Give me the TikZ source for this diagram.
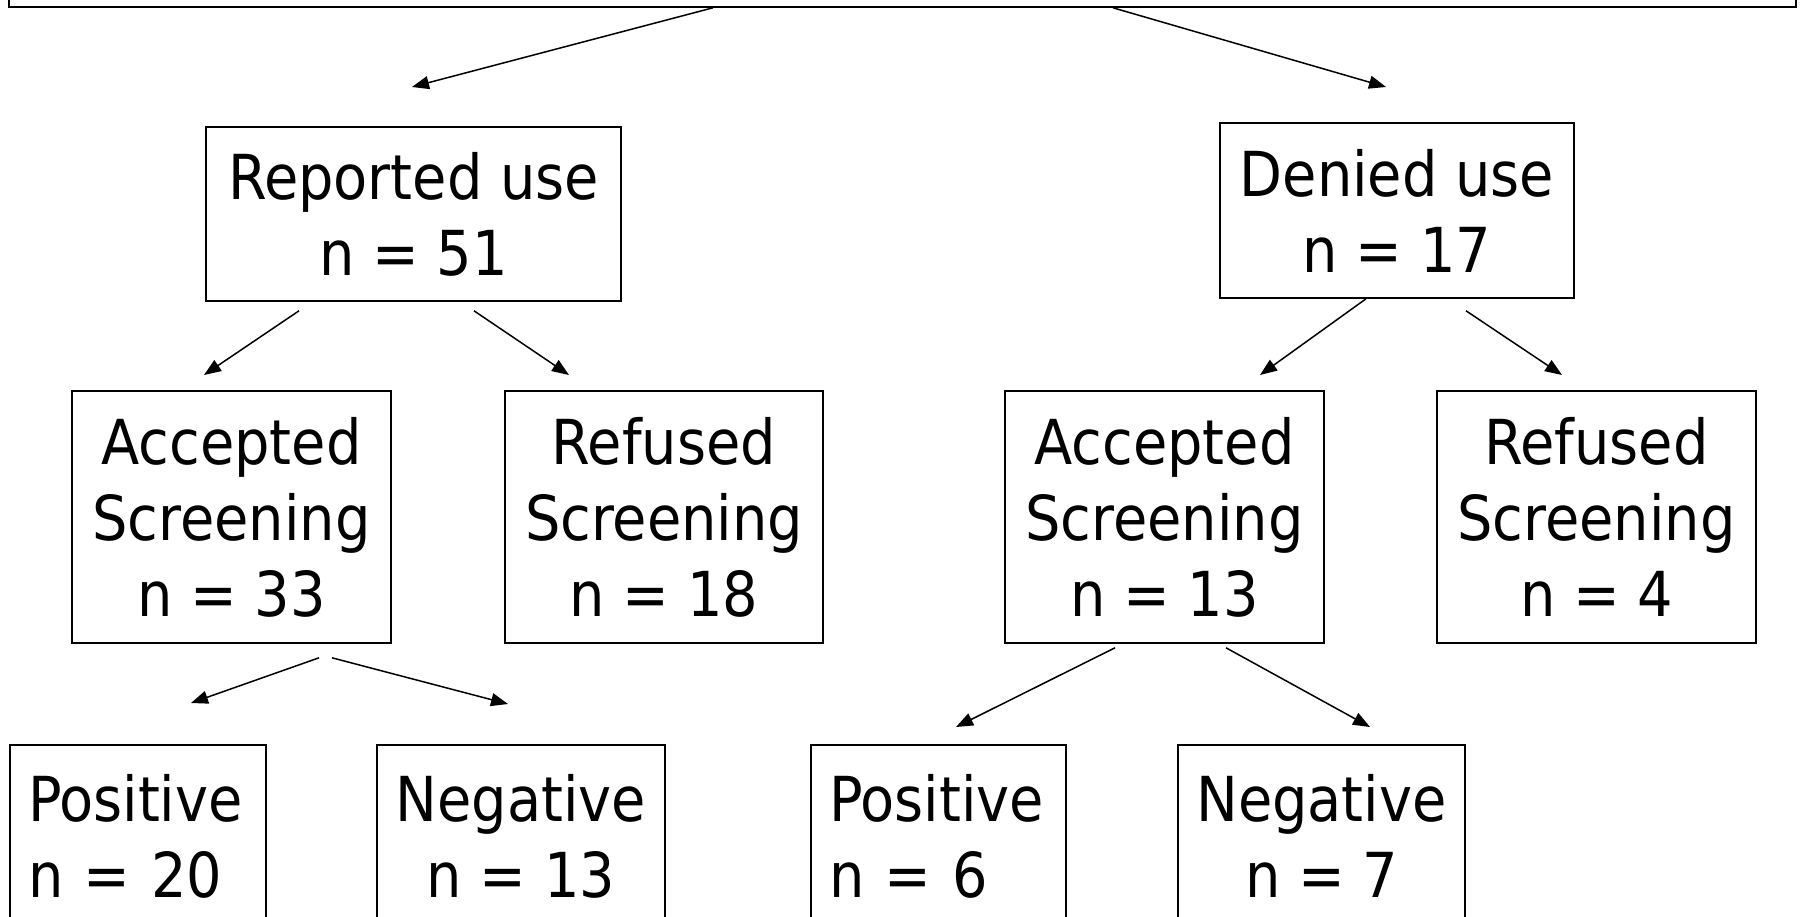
\documentclass[tikz,border=0pt]{standalone}
\usepackage{fontspec}
\setmainfont{DejaVu Sans Condensed}
\usetikzlibrary{arrows.meta,calc}

\tikzset{
  flowbox/.style={draw, line width=1.6pt, rectangle, inner xsep=18pt, inner ysep=0pt,
    font=\fontsize{62}{76}\selectfont, align=center},
  leftbox/.style={flowbox, align=left},
  flowarrow/.style={line width=1.5pt, -{Triangle[length=17pt,width=13pt]}}
}

\begin{document}
\begin{tikzpicture}[x=1pt,y=-1pt]
\useasboundingbox (0,0) rectangle (1803,917);
\clip (0,0) rectangle (1803,917);
% top box
\node[flowbox, minimum width=1787pt, minimum height=67pt] (total) at (902.5,-26.5) {};
% first split
\node[flowbox, minimum width=415pt, minimum height=174pt] (reported) at (413.5,214) {Reported use\\n = 51};
\node[flowbox, minimum width=354pt, minimum height=175pt] (denied) at (1397,210.5) {Denied use\\n = 17};
% screening
\node[flowbox, minimum width=319pt, minimum height=252pt] (accleft) at (231.5,517) {Accepted\\Screening\\n = 33};
\node[flowbox, minimum width=318pt, minimum height=252pt] (refleft) at (664,517) {Refused\\Screening\\n = 18};
\node[flowbox, minimum width=319pt, minimum height=252pt] (accright) at (1164.5,517) {Accepted\\Screening\\n = 13};
\node[flowbox, minimum width=319pt, minimum height=252pt] (refright) at (1596.5,517) {Refused\\Screening\\n = 4};
% results
\node[leftbox, text width=220pt, minimum height=182pt] (posleft) at (138,836) {Positive\\n = 20};
\node[flowbox, minimum width=288pt, minimum height=182pt] (negleft) at (521,836) {Negative\\n = 13};
\node[leftbox, text width=219pt, minimum height=182pt] (posright) at (938.5,836) {Positive\\n = 6};
\node[flowbox, minimum width=287pt, minimum height=182pt] (negright) at (1321.5,836) {Negative\\n = 7};
% arrow tips
\coordinate (toreported) at (412,87);
\coordinate (todenied) at (1386,87);
\coordinate (toaccleft) at (204,375);
\coordinate (torefleft) at (569,375);
\coordinate (toaccright) at (1260,375);
\coordinate (torefright) at (1562,375);
\coordinate (toposleft) at (191,703);
\coordinate (tonegleft) at (508,704);
\coordinate (toposright) at (956,727);
\coordinate (tonegright) at (1370,727);
% arrows
\draw[flowarrow] ($(total.south)+(-189.5,0)$) -- (toreported);
\draw[flowarrow] ($(total.south)+(210.5,0)$) -- (todenied);
\draw[flowarrow] ($(reported.south)+(-114.5,9)$) -- (toaccleft);
\draw[flowarrow] ($(reported.south)+(60.5,9)$) -- (torefleft);
\draw[flowarrow] ($(denied.south)+(-31,0)$) -- (toaccright);
\draw[flowarrow] ($(denied.south)+(69,12)$) -- (torefright);
\draw[flowarrow] ($(accleft.south)+(87.5,14)$) -- (toposleft);
\draw[flowarrow] ($(accleft.south)+(100.5,14)$) -- (tonegleft);
\draw[flowarrow] ($(accright.south)+(-49.5,4)$) -- (toposright);
\draw[flowarrow] ($(accright.south)+(61.5,4)$) -- (tonegright);
\end{tikzpicture}
\end{document}
